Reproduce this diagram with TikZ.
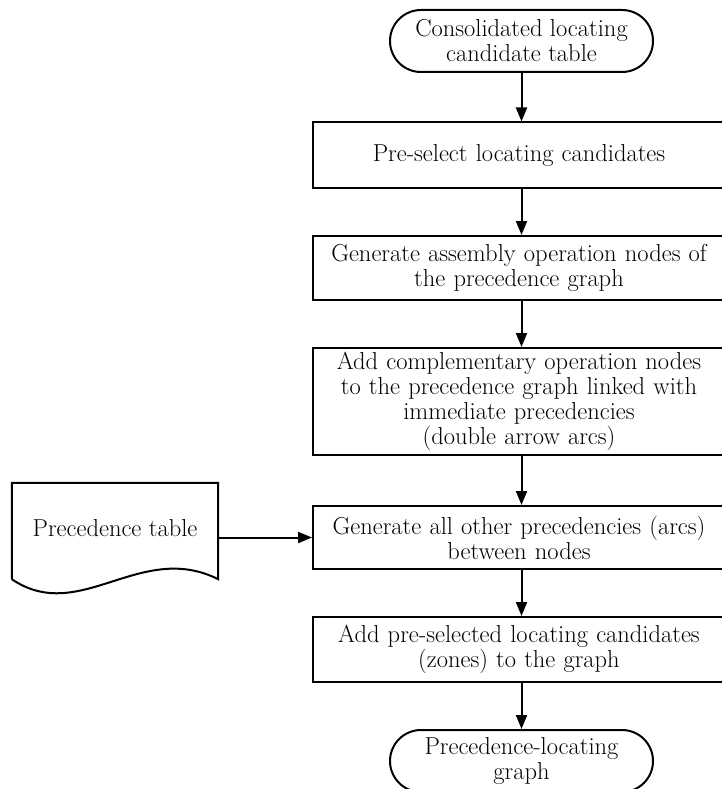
\documentclass[tikz,border=0pt]{standalone}
\usetikzlibrary{arrows.meta}
\begin{document}
\begin{tikzpicture}[x=1pt,y=-1pt,
  every node/.style={font=\fontsize{24.5}{25}\selectfont, align=center, inner sep=0pt},
  proc/.style={draw, line width=2pt, minimum width=412pt, text width=410pt},
  term/.style={draw, line width=2pt, rounded corners=31pt, minimum width=263pt, minimum height=62pt},
  flow/.style={line width=2pt, -{Triangle[length=14pt,width=11pt]}}]
\useasboundingbox (0,0) rectangle (721,789);
\node[term] (t1) at (521.5,41) {Consolidated locating\\candidate table};
\node[proc, minimum height=65pt] (b1) at (519,155) {Pre-select locating candidates};
\node[proc, minimum height=64pt] (b2) at (519,268) {Generate assembly operation nodes of\\the precedence graph};
\node[proc, minimum height=107pt] (b3) at (519,401.5) {Add complementary operation nodes\\to the precedence graph linked with\\immediate precedencies\\(double arrow arcs)};
\node[proc, minimum height=63pt] (b4) at (519,537.5) {Generate all other precedencies (arcs)\\between nodes};
\node[proc, minimum height=65pt] (b5) at (519,649.5) {Add pre-selected locating candidates\\(zones) to the graph};
\node[term] (t2) at (521.5,761) {Precedence-locating\\graph};
\node[minimum width=206pt, minimum height=96pt] (doc) at (115,531) {\raisebox{6pt}{Precedence table}};
\draw[line width=2pt] (doc.south west) -- (doc.north west) -- (doc.north east) -- (doc.south east)
  .. controls ([xshift=-78pt,yshift=39pt]doc.south east) and ([xshift=68pt,yshift=-46pt]doc.south west) .. (doc.south west);
\draw[flow] (t1.south) -- (b1.north -| t1.south);
\draw[flow] (b1.south -| t1.south) -- (b2.north -| t1.south);
\draw[flow] (b2.south -| t1.south) -- (b3.north -| t1.south);
\draw[flow] (b3.south -| t1.south) -- (b4.north -| t1.south);
\draw[flow] (b4.south -| t1.south) -- (b5.north -| t1.south);
\draw[flow] (b5.south -| t1.south) -- (t2.north);
\draw[flow] (doc.east |- b4.west) -- (b4.west);
\end{tikzpicture}
\end{document}
